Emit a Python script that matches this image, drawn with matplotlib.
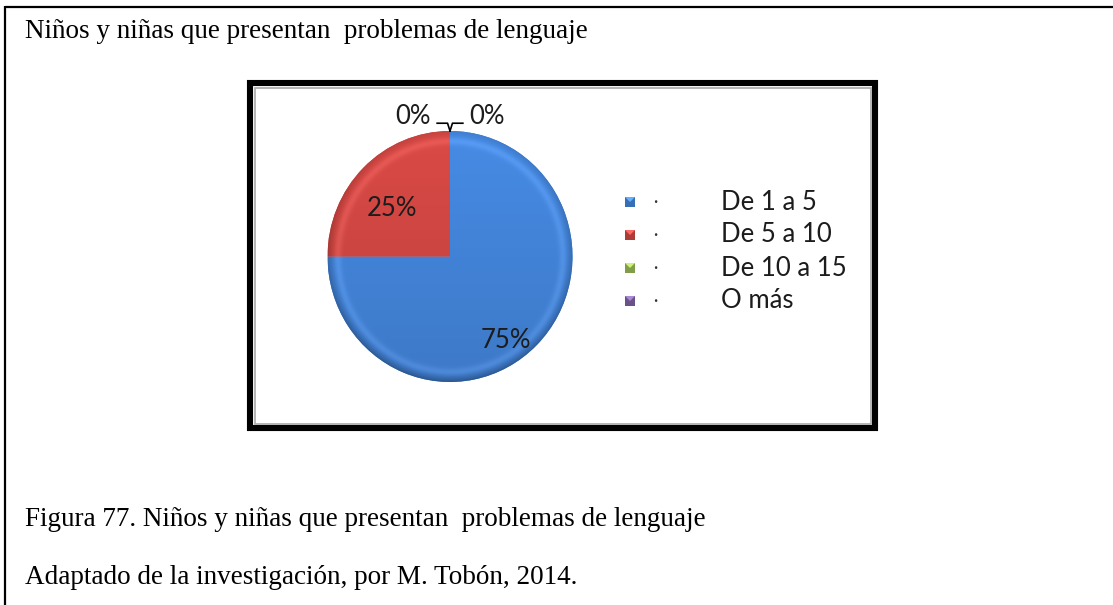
import numpy as np
import matplotlib
matplotlib.use("Agg")
import matplotlib.pyplot as plt
from matplotlib.patches import Rectangle, Polygon
from matplotlib.colors import to_rgb

# Data
categories = ["De 1 a 5", "De 5 a 10", "De 10 a 15", "O más"]
values = [75, 25, 0, 0]
colors = ["#4282d6", "#cc4541", "#98b954", "#7d60a0"]

title = "Niños y niñas que presentan  problemas de lenguaje"
caption = "Figura 77. Niños y niñas que presentan  problemas de lenguaje"
source = "Adaptado de la investigación, por M. Tobón, 2014."

W, H = 1113, 605
fig = plt.figure(figsize=(W / 100, H / 100), dpi=100)
fig.patch.set_facecolor("white")

# Page layer in pixel coordinates
bg = fig.add_axes([0, 0, 1, 1])
bg.set_xlim(0, W)
bg.set_ylim(H, 0)
bg.axis("off")

# Outer table lines (top and left)
bg.plot([5, W], [7, 7], color="black", lw=1.6, solid_capstyle="butt")
bg.plot([5, 5], [6, H], color="black", lw=1.6, solid_capstyle="butt")

serif = "Liberation Serif"
text_size = 19.5
bg.text(25, 31, title, family=serif, fontsize=text_size, va="center", ha="left", color="black")
bg.text(25, 519, caption, family=serif, fontsize=text_size, va="center", ha="left", color="black")
bg.text(25, 578, source, family=serif, fontsize=text_size, va="center", ha="left", color="black")

# Chart box: thick black frame with thin grey inner line
bg.add_patch(Rectangle((250, 83), 625, 345, fill=False, ec="black", lw=4.4))
bg.add_patch(Rectangle((254.5, 87.5), 616, 336, fill=False, ec="#a8a8a8", lw=1.2))

# Pie axes placed over the chart area
cx, cy, rx, ry = 450, 256.5, 122.5, 125.5
pie_ax = fig.add_axes([(cx - rx) / W, (H - cy - ry) / H, 2 * rx / W, 2 * ry / H])
pie_ax.set_facecolor("none")
wedges, _ = pie_ax.pie(values, colors=colors, startangle=90, counterclock=False,
                       radius=1.0, wedgeprops=dict(linewidth=0))
pie_ax.axis("off")

# Bevel-like shading clipped to each wedge
n = 400
gx, gy = np.meshgrid(np.linspace(-1, 1, n), np.linspace(-1, 1, n))
rr = np.hypot(gx, gy)
rim = np.clip((rr - 0.93) / 0.07, 0, 1)
shade = 1.0 + 0.07 * gy - (0.18 - 0.08 * gy) * rim ** 1.5
inner_hi = np.exp(-((rr - 0.92) / 0.03) ** 2) * 0.06
for w, c, v in zip(wedges, colors, values):
    if v <= 0:
        continue
    base = np.array(to_rgb(c))
    img = np.clip(base[None, None, :] * shade[..., None] + inner_hi[..., None], 0, 1)
    im = pie_ax.imshow(img, extent=(-1, 1, -1, 1), origin="lower", zorder=2,
                       interpolation="bilinear")
    im.set_clip_path(w)
pie_ax.set_xlim(-1, 1)
pie_ax.set_ylim(-1, 1)
pie_ax.set_aspect("auto")

# Percentage labels
label_font = "Lato"
label_size = 18.5
total = sum(values)
label_r = [0.81, 0.61]
label_shift = [-11, 6]
for i, (w, v) in enumerate(zip(wedges, values)):
    if v <= 0:
        continue
    ang = np.deg2rad((w.theta1 + w.theta2) / 2 + label_shift[i])
    pie_ax.text(label_r[i] * np.cos(ang), label_r[i] * np.sin(ang), f"{v / total * 100:.0f}%",
                ha="center", va="center", family=label_font, fontsize=label_size,
                color="#1c1c1c", zorder=5)

# Zero-value slices: labels at the top with short leader lines
zero_idx = [i for i, v in enumerate(values) if v == 0]
for k, i in enumerate(zero_idx):
    side = -1 if k == 0 else 1
    pie_ax.text(side * 0.30, 1.115, f"{values[i] / total * 100:.0f}%", ha="center", va="center",
                family=label_font, fontsize=label_size, color="#1c1c1c", clip_on=False)
    pie_ax.plot([side * 0.105, side * 0.02, 0], [1.062, 1.062, 1.0], color="black",
                lw=1.2, clip_on=False, zorder=6)

# Legend with bevelled swatches
leg_x, leg_y0, leg_dy = 630, 202, 33
for i, (cat, c) in enumerate(zip(categories, colors)):
    y = leg_y0 + i * leg_dy
    base = np.array(to_rgb(c))
    bg.add_patch(Rectangle((leg_x - 5, y - 5), 10, 10, fc=base * 0.85, ec="none", zorder=3))
    bg.add_patch(Polygon([(leg_x - 5, y - 5), (leg_x + 5, y - 5), (leg_x, y)],
                         closed=True, fc=np.clip(base * 1.2 + 0.08, 0, 1), ec="none", zorder=4))
    bg.text(655, y, "·", ha="center", va="center", family=label_font, fontsize=12, color="#333333")
    bg.text(721, y, cat, ha="left", va="center", family=label_font, fontsize=18.5, color="#1c1c1c")

fig.savefig("out.png", dpi=100, facecolor="white")
